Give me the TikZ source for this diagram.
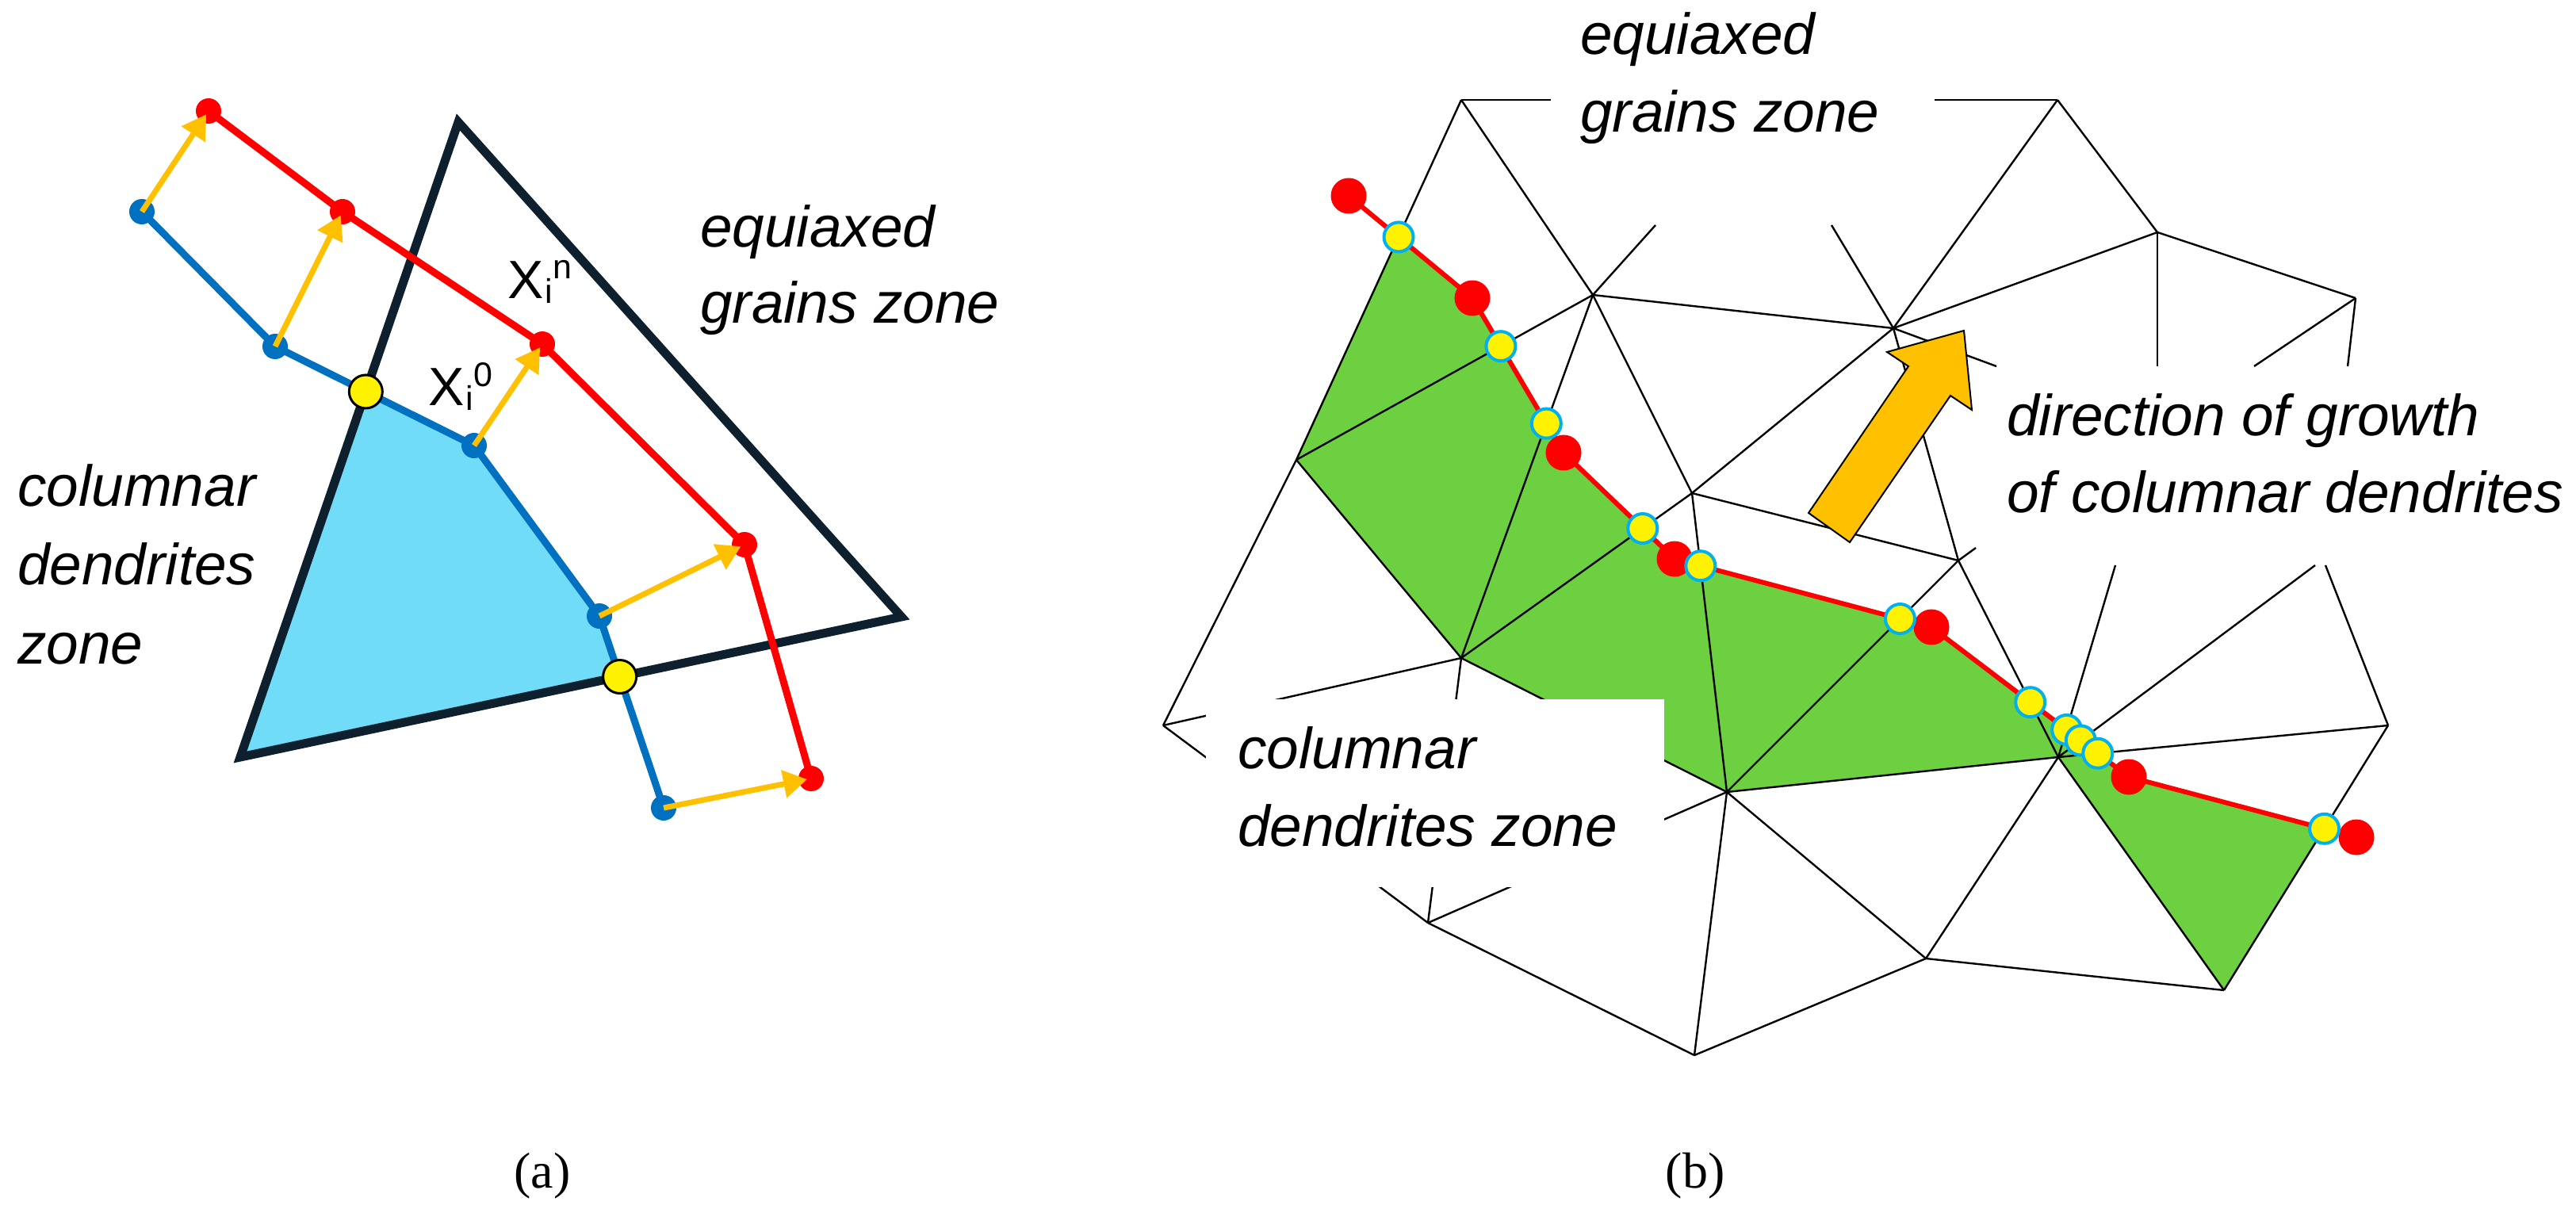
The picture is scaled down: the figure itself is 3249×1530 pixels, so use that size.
\documentclass[tikz,border=0pt]{standalone}
\usepackage{fontspec}
\newfontfamily\lblfont{Liberation Sans}
\newfontfamily\capfont{Liberation Serif}
\usetikzlibrary{arrows.meta}
\definecolor{cgreen}{RGB}{108,208,64}
\definecolor{cyanb}{RGB}{0,176,240}
\definecolor{gold}{RGB}{255,192,0}
\definecolor{ablue}{RGB}{0,112,192}
\definecolor{lblue}{RGB}{112,220,248}
\definecolor{navy}{RGB}{14,32,46}
\tikzset{
  mesh/.style={draw=black, line width=2.4pt},
  rfront/.style={draw=red, line width=6pt, line join=round},
  bigred/.style={circle, fill=red, minimum size=45pt, inner sep=0pt},
  ydot/.style={circle, fill=yellow, draw=cyanb, line width=4pt, minimum size=37pt, inner sep=0pt},
  smallred/.style={circle, fill=red, minimum size=32pt, inner sep=0pt},
  smallblue/.style={circle, fill=ablue, minimum size=32pt, inner sep=0pt},
  yblk/.style={circle, fill=yellow, draw=black, line width=3pt, minimum size=42pt, inner sep=0pt},
  garrow/.style={draw=gold, line width=7pt, -{Triangle[length=30pt,width=34pt]}, shorten >=5pt},
  lab/.style={font=\lblfont\itshape\fontsize{73}{98}\selectfont, anchor=base west, inner sep=0pt},
  xlab/.style={font=\lblfont\fontsize{68}{76}\selectfont, anchor=base west, inner sep=0pt},
  caplab/.style={font=\capfont\fontsize{64}{64}\selectfont, inner sep=0pt},
}
\newcommand{\smallsz}{\fontsize{43}{43}\selectfont}
\begin{document}
\begin{tikzpicture}[x=1pt, y=-1pt]
\useasboundingbox (0,0) rectangle (3249,1530);
\fill[white] (0,0) rectangle (3249,1530);

% ================= panel (a) =================
\coordinate (tA) at (578,154);
\coordinate (tL) at (303,955);
\coordinate (tR) at (1137,778);
\coordinate (b1) at (179,267);
\coordinate (b2) at (347,437);
\coordinate (b3) at (598,562);
\coordinate (b4) at (756,777);
\coordinate (b5) at (837,1019);
\coordinate (q1) at (263,140);
\coordinate (q2) at (432,267);
\coordinate (q3) at (684,434);
\coordinate (q4) at (939,687);
\coordinate (q5) at (1023,982);
\coordinate (yA1) at (intersection of b2--b3 and tA--tL);
\coordinate (yA2) at (intersection of b4--b5 and tL--tR);

\fill[lblue] (yA1) -- (b3) -- (b4) -- (yA2) -- (tL) -- cycle;
\draw[navy, line width=11pt] (tA) -- (tL) -- (tR) -- cycle;
\draw[ablue, line width=9pt, line join=round] (b1) -- (b2) -- (b3) -- (b4) -- (b5);
\draw[red, line width=9pt, line join=round] (q1) -- (q2) -- (q3) -- (q4) -- (q5);

\foreach \i in {1,...,5} {
  \node[smallblue] (nb\i) at (b\i) {};
  \node[smallred] (nq\i) at (q\i) {};
}
\node[yblk] (ny1) at (yA1) {};
\node[yblk] (ny2) at (yA2) {};
\foreach \i in {1,...,5} {
  \draw[garrow] (nb\i.center) -- (nq\i.center);
}

\node[lab] (ta1) at (883,311) {equiaxed};
\node[lab] (ta2) at (883,407) {grains zone};
\node[lab] (ta3) at (22,638) {columnar};
\node[lab] (ta4) at (22,737) {dendrites};
\node[lab] (ta5) at (22,837) {zone};
\node[xlab] (xn) at (640,376) {X\hspace{2pt}\raisebox{-6pt}{\smallsz i}\raisebox{25pt}{\smallsz n}};
\node[xlab] (x0) at (540,511) {X\hspace{2pt}\raisebox{-6pt}{\smallsz i}\raisebox{24pt}{\smallsz 0}};

% ================= panel (b) =================
\coordinate (A) at (1843,126);
\coordinate (B) at (2595,126);
\coordinate (C) at (1635,580);
\coordinate (D) at (2009,372);
\coordinate (E) at (2388,414);
\coordinate (F) at (2721,293);
\coordinate (G) at (2971,376);
\coordinate (H) at (2134,622);
\coordinate (I) at (2470,707);
\coordinate (J) at (1843,830);
\coordinate (K) at (2178,999);
\coordinate (L) at (2596,955);
\coordinate (M) at (3012,915);
\coordinate (N) at (1467,915);
\coordinate (O) at (1801,1164);
\coordinate (P) at (2429,1209);
\coordinate (Q) at (2805,1249);
\coordinate (R) at (2137,1331);
% free ends
\coordinate (aT) at (1956,126);
\coordinate (bT) at (2440,126);
\coordinate (dU) at (2088,284);
\coordinate (eU) at (2310,284);
\coordinate (eR) at (2518,462);
\coordinate (fD) at (2721,462);
\coordinate (gDL) at (2843,462);
\coordinate (gD) at (2961,462);
\coordinate (iU) at (2492,691);
\coordinate (lU) at (2668,713);
\coordinate (lUR) at (2920,713);
\coordinate (mU) at (2933,713);
% front points
\coordinate (f1) at (1701,247);
\coordinate (f2) at (1857,376);
\coordinate (f3) at (1972,571);
\coordinate (f4) at (2112,705);
\coordinate (f5) at (2436,791);
\coordinate (f6) at (2685,980);
\coordinate (f7) at (2972,1056);
% intersections
\coordinate (y1) at (intersection of f1--f2 and A--C);
\coordinate (y2) at (intersection of f2--f3 and C--D);
\coordinate (y3) at (intersection of f2--f3 and D--J);
\coordinate (y4) at (intersection of f3--f4 and H--J);
\coordinate (y5) at (intersection of f4--f5 and H--K);
\coordinate (y6) at (intersection of f4--f5 and I--K);
\coordinate (y7) at (intersection of f5--f6 and I--L);
\coordinate (y8) at (intersection of f5--f6 and L--lU);
\coordinate (y9) at (intersection of f5--f6 and L--lUR);
\coordinate (y10) at (intersection of f5--f6 and L--M);
\coordinate (y11) at (intersection of f6--f7 and Q--M);

\fill[cgreen] (y1) -- (f2) -- (y2) -- (y3) -- (f3) -- (y4) -- (f4) -- (y5) -- (y6)
  -- (f5) -- (y7) -- (y8) -- (y9) -- (y10) -- (f6) -- (y11) -- (Q) -- (L) -- (K)
  -- (J) -- (C) -- cycle;

\draw[mesh] (A) -- (aT);
\draw[mesh] (B) -- (bT);
\draw[mesh] (A) -- (C);
\draw[mesh] (A) -- (D);
\draw[mesh] (B) -- (E);
\draw[mesh] (B) -- (F);
\draw[mesh] (C) -- (D);
\draw[mesh] (C) -- (J);
\draw[mesh] (C) -- (N);
\draw[mesh] (D) -- (E);
\draw[mesh] (D) -- (J);
\draw[mesh] (D) -- (H);
\draw[mesh] (D) -- (dU);
\draw[mesh] (E) -- (F);
\draw[mesh] (E) -- (H);
\draw[mesh] (E) -- (I);
\draw[mesh] (E) -- (eU);
\draw[mesh] (E) -- (eR);
\draw[mesh] (F) -- (G);
\draw[mesh] (F) -- (fD);
\draw[mesh] (G) -- (gDL);
\draw[mesh] (G) -- (gD);
\draw[mesh] (H) -- (I);
\draw[mesh] (H) -- (J);
\draw[mesh] (H) -- (K);
\draw[mesh] (I) -- (K);
\draw[mesh] (I) -- (L);
\draw[mesh] (I) -- (iU);
\draw[mesh] (J) -- (K);
\draw[mesh] (J) -- (N);
\draw[mesh] (J) -- (O);
\draw[mesh] (K) -- (L);
\draw[mesh] (K) -- (O);
\draw[mesh] (K) -- (P);
\draw[mesh] (K) -- (R);
\draw[mesh] (L) -- (M);
\draw[mesh] (L) -- (P);
\draw[mesh] (L) -- (Q);
\draw[mesh] (L) -- (lU);
\draw[mesh] (L) -- (lUR);
\draw[mesh] (M) -- (Q);
\draw[mesh] (M) -- (mU);
\draw[mesh] (N) -- (O);
\draw[mesh] (O) -- (R);
\draw[mesh] (P) -- (Q);
\draw[mesh] (P) -- (R);

% white label box
\fill[white] (1521,882) rectangle (2099,1119);

% growth front
\draw[rfront] (f1) -- (f2) -- (f3) -- (f4) -- (f5) -- (f6) -- (f7);
\foreach \i in {1,...,7} { \node[bigred] (nf\i) at (f\i) {}; }
\foreach \i in {1,...,11} { \node[ydot] (ny\i b) at (y\i) {}; }

% direction arrow
\filldraw[fill=gold, draw=black, line width=2pt, line join=miter]
  (2477,417) -- (2487,517) -- (2460,499) -- (2333,684) -- (2281,647)
  -- (2407,462) -- (2380,444) -- cycle;

\node[lab] (tb1) at (1993,69) {equiaxed};
\node[lab] (tb2) at (1993,167) {grains zone};
\node[lab] (tb3) at (2531,549) {direction of growth};
\node[lab] (tb4) at (2531,646) {of columnar dendrites};
\node[lab] (tb5) at (1561,969) {columnar};
\node[lab] (tb6) at (1561,1067) {dendrites zone};

\node[caplab] (capa) at (684,1483) {(a)};
\node[caplab] (capb) at (2138,1483) {(b)};
\end{tikzpicture}
\end{document}
